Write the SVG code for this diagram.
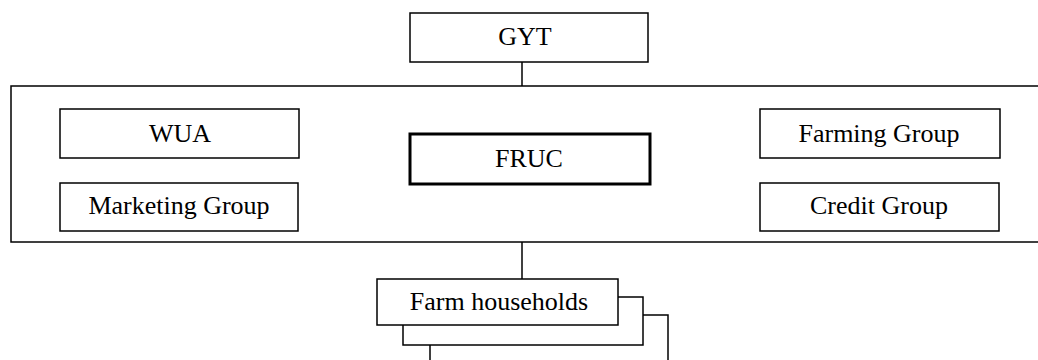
<svg xmlns="http://www.w3.org/2000/svg" width="1038" height="360" viewBox="0 0 1038 360">
<style>
.b{fill:#fff;stroke:#000;stroke-width:1.5}
.t{font-family:"Liberation Serif",serif;font-size:26px;fill:#000;text-anchor:middle}
.c{stroke:#000;stroke-width:1.5;fill:none}
</style>
<rect width="1038" height="360" fill="#fff"/>
<g id="container"><rect class="b" x="11" y="86" width="1040" height="156"/></g>
<g id="connectors">
<line class="c" x1="522" y1="62" x2="522" y2="86"/>
<line class="c" x1="522" y1="242" x2="522" y2="279"/>
</g>
<g id="gyt"><rect class="b" x="410" y="13" width="238" height="49"/><text class="t" x="525" y="45">GYT</text></g>
<g id="wua"><rect class="b" x="60" y="109" width="239" height="49"/><text class="t" x="180" y="142">WUA</text></g>
<g id="marketing"><rect class="b" x="60" y="183" width="238" height="48"/><text class="t" x="179" y="214">Marketing Group</text></g>
<g id="fruc"><rect class="b" x="410" y="134" width="240" height="50" style="stroke-width:3"/><text class="t" x="529" y="167">FRUC</text></g>
<g id="farming"><rect class="b" x="760" y="109" width="240" height="49"/><text class="t" x="879" y="142">Farming Group</text></g>
<g id="credit"><rect class="b" x="760" y="183" width="239" height="48"/><text class="t" x="879" y="214">Credit Group</text></g>
<g id="households">
<rect class="b" x="430" y="315" width="238" height="60"/>
<rect class="b" x="403" y="297" width="240" height="48"/>
<rect class="b" x="377" y="279" width="241" height="46"/>
<text class="t" x="499" y="310">Farm households</text>
</g>
</svg>
